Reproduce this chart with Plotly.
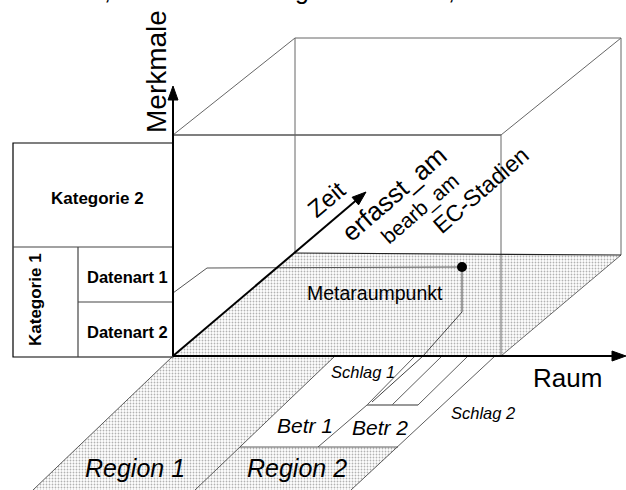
import plotly.graph_objects as go
import math

FONT = "Arial, Liberation Sans, sans-serif"

# ---- diagram geometry (pixel coordinates, y downward) ----
origin = (173, 356)
merkmale_tip = (173, 86)
raum_tip = (626, 356)
zeit_tip = (366, 192)

box_front = [(173, 135), (501, 135)]
box_lines_grey = [
    [(501, 135), (501, 356)],
    [(295, 38), (621, 38)],
    [(295, 38), (295, 253)],
    [(621, 38), (621, 255)],
    [(173, 135), (295, 38)],
    [(501, 135), (621, 38)],
    [(501, 356), (621, 255)],
]
floor_back = [(295, 253), (621, 255)]

table_outer = (13, 143, 173, 357)
table_lines = [
    [(13, 247), (173, 247)],
    [(78, 247), (78, 357)],
    [(78, 302), (173, 302)],
]

ledge = [(173, 293), (207, 268), (462, 267)]
meta_proj = [(462, 267), (462, 312), (423, 356), (372, 402)]
meta_point = (462, 267)

ground_lines = [
    [(173, 356), (33, 490)],
    [(335, 356), (195, 490)],
    [(495, 356), (351, 490)],
    [(240, 447), (398, 447)],
    [(318, 447), (367, 405)],
    [(415, 356), (367, 405)],
    [(442, 356), (392, 405)],
    [(468, 356), (418, 405)],
]
parcel_bottom = [(367, 405), (418, 405)]

floor_poly = [(173, 356), (501, 356), (621, 255), (295, 253)]
region1_poly = [(173, 356), (335, 356), (195, 490), (33, 490)]
region2_poly = [(240, 447), (398, 447), (351, 490), (195, 490)]

# labels: text, x, y, size, angle, bold, italic
labels = [
    ("Merkmale", 156, 72, 28, -90, False, False),
    ("Raum", 567, 378, 26, 0, False, False),
    ("Zeit", 326, 199, 24, -40, False, False),
    ("erfasst_am", 394, 194, 26, -41, False, False),
    ("bearb_am", 420, 209, 21, -41, False, False),
    ("EC-Stadien", 481, 190, 23, -41, False, False),
    ("Metaraumpunkt", 375, 293, 19.5, 0, False, False),
    ("Kategorie 2", 97, 198, 17, 0, True, False),
    ("Datenart 1", 127, 277, 16.5, 0, True, False),
    ("Datenart 2", 127, 332, 16.5, 0, True, False),
    ("Kategorie 1", 35, 300, 17, -90, True, False),
    ("Schlag 1", 363, 372, 16.5, 0, False, True),
    ("Schlag 2", 483, 413, 16.5, 0, False, True),
    ("Betr 1", 305, 425, 21, 0, False, True),
    ("Betr 2", 380, 427, 21, 0, False, True),
    ("Region 1", 135, 468, 25, 0, False, True),
    ("Region 2", 297, 468, 25, 0, False, True),
]

fig = go.Figure()

pattern = dict(shape=".", size=3, solidity=0.3, fgcolor="#666", bgcolor="white")
for poly in (floor_poly, region1_poly, region2_poly):
    xs = [p[0] for p in poly] + [poly[0][0]]
    ys = [p[1] for p in poly] + [poly[0][1]]
    fig.add_trace(go.Scatter(x=xs, y=ys, mode="lines", fill="toself",
                             fillcolor="white", fillpattern=pattern,
                             line=dict(width=0, color="rgba(0,0,0,0)"),
                             hoverinfo="skip", showlegend=False))

shapes = []


def seg(p, q, color="black", width=1):
    shapes.append(dict(type="line", x0=p[0], y0=p[1], x1=q[0], y1=q[1],
                       line=dict(color=color, width=width), layer="above"))


def polyline(pts, color="black", width=1):
    for a, b in zip(pts[:-1], pts[1:]):
        seg(a, b, color, width)


def arrow(p, tip, length=14, half=5):
    dx, dy = tip[0] - p[0], tip[1] - p[1]
    L = math.hypot(dx, dy)
    ux, uy = dx / L, dy / L
    bx, by = tip[0] - length * ux, tip[1] - length * uy
    seg(p, (bx + 2 * ux, by + 2 * uy), "black", 2)
    px, py = -uy, ux
    path = (f"M {tip[0]} {tip[1]} L {bx + half * px} {by + half * py} "
            f"L {bx - half * px} {by - half * py} Z")
    shapes.append(dict(type="path", path=path, fillcolor="black",
                       line=dict(color="black", width=1), layer="above"))


# box
seg(*box_front, "black", 1.2)
for s in box_lines_grey:
    seg(*s, "#666", 1)
seg(*floor_back, "#222", 1.2)

# table
x0, y0, x1, y1 = table_outer
shapes.append(dict(type="rect", x0=x0, y0=y0, x1=x1, y1=y1,
                   line=dict(color="black", width=1.2), layer="above"))
for s in table_lines:
    seg(*s, "#444", 1.2)

# ledge and metaraumpunkt projection
polyline(ledge, "#555", 1)
polyline(meta_proj, "#444", 1)

# ground lines
for s in ground_lines:
    seg(*s, "#333", 0.8)
seg(*parcel_bottom, "#777", 1.5)

# axes arrows
arrow(origin, merkmale_tip)
arrow(origin, raum_tip)
arrow(origin, zeit_tip)

# metaraumpunkt dot
r = 5
shapes.append(dict(type="circle", x0=meta_point[0] - r, y0=meta_point[1] - r,
                   x1=meta_point[0] + r, y1=meta_point[1] + r,
                   fillcolor="black", line=dict(color="black", width=0),
                   layer="above"))

annotations = []
for text, x, y, size, ang, bold, ital in labels:
    t = text
    if bold:
        t = f"<b>{t}</b>"
    if ital:
        t = f"<i>{t}</i>"
    annotations.append(dict(x=x, y=y, text=t, showarrow=False, textangle=ang,
                            font=dict(family=FONT, size=size, color="black"),
                            xanchor="center", yanchor="middle"))

# remnants of a caption line cut off at the top edge
for text, x in ((",", 107), ("g", 302), (",", 451)):
    annotations.append(dict(x=x, y=6, text=text, showarrow=False,
                            font=dict(family=FONT, size=25, color="black"),
                            xanchor="center", yanchor="bottom"))

fig.update_layout(
    width=626, height=490, autosize=False,
    margin=dict(l=0, r=0, t=0, b=0, pad=0),
    paper_bgcolor="white", plot_bgcolor="white",
    xaxis=dict(range=[0, 626], visible=False, fixedrange=True),
    yaxis=dict(range=[490, 0], visible=False, fixedrange=True),
    shapes=shapes, annotations=annotations, showlegend=False,
)

fig.write_html(
    "out.html",
    config={"displayModeBar": False, "staticPlot": True},
    post_script="document.body.style.margin='0';document.body.style.overflow='hidden';",
)
